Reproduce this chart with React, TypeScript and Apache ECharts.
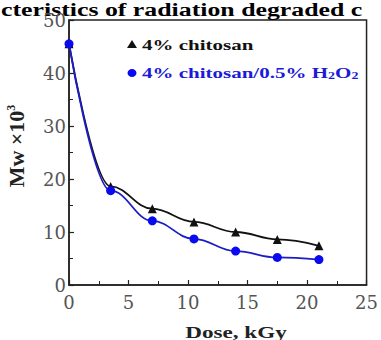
import React, { useEffect, useRef } from "react";
import * as echarts from "echarts";

const doses = [0, 3.5, 7, 10.5, 14, 17.5, 21];
const chitosan = [45.5, 18.6, 14.4, 11.9, 10.0, 8.6, 7.4];
const chitosanH2O2 = [45.5, 17.8, 12.1, 8.7, 6.4, 5.2, 4.8];
const xTicks = [0, 5, 10, 15, 20, 25];
const yTicks = [0, 10, 20, 30, 40, 50];

const SERIF = '"Liberation Serif", "Times New Roman", serif';
const WIDE_SERIF = '"DejaVu Serif", "Liberation Serif", serif';

export default function App() {
  const ref = useRef<HTMLDivElement>(null);
  useEffect(() => {
    if (!ref.current) return;
    const chart = echarts.init(ref.current, undefined, { renderer: "svg" });
    const axisCommon = {
      axisLine: { show: true, lineStyle: { color: "#222", width: 1.5 } },
      axisTick: { show: true, inside: true, length: 5, lineStyle: { color: "#222", width: 1.2 } },
      minorTick: { show: true, splitNumber: 2, length: 4, lineStyle: { color: "#222", width: 1 } },
      splitLine: { show: false },
      axisLabel: { fontFamily: WIDE_SERIF, fontSize: 18, color: "#555" },
    };
    chart.setOption({
      animation: false,
      backgroundColor: "#fff",
      grid: { left: 69, right: 10, top: 20, bottom: 55, show: true, borderColor: "#222", borderWidth: 1.5 },
      xAxis: {
        type: "value",
        min: xTicks[0],
        max: xTicks[xTicks.length - 1],
        interval: 5,
        ...axisCommon,
        axisLabel: { ...axisCommon.axisLabel, margin: 8 },
      },
      yAxis: {
        type: "value",
        min: yTicks[0],
        max: yTicks[yTicks.length - 1],
        interval: 10,
        ...axisCommon,
        axisLabel: { ...axisCommon.axisLabel, margin: 3 },
      },
      graphic: [
        {
          type: "text",
          x: 1,
          y: 0,
          scaleX: 1.36,
          style: {
            text: "{t|cteristics of radiation degraded c}",
            rich: { t: { font: `bold 19px ${SERIF}`, fill: "#000" } },
          },
        },
        {
          type: "text",
          x: 236,
          y: 332,
          scaleX: 1.36,
          style: {
            text: "{t|Dose, kGy}",
            align: "center",
            verticalAlign: "middle",
            rich: { t: { font: `bold 17px ${SERIF}`, fill: "#222" } },
          },
        },
        {
          type: "text",
          x: 16,
          y: 146,
          rotation: Math.PI / 2,
          style: {
            text: "{b|Mw ×10}{s|3}",
            align: "center",
            verticalAlign: "middle",
            rich: {
              b: { font: `bold 22px ${SERIF}`, fill: "#222" },
              s: { font: `bold 12px ${SERIF}`, fill: "#222", padding: [0, 0, 10, 0] },
            },
          },
        },
        {
          type: "polygon",
          shape: { points: [[132, 40], [127, 48], [137, 48]] },
          style: { fill: "#111" },
        },
        {
          type: "ellipse",
          shape: { cx: 132, cy: 73, rx: 4.5, ry: 4 },
          style: { fill: "#0a0af0" },
        },
        {
          type: "text",
          x: 142,
          y: 59,
          scaleX: 1.4,
          style: {
            text: "{k|4% chitosan}\n{a|4% chitosan/0.5% H}{s|2}{a|O}{s|2}",
            verticalAlign: "middle",
            lineHeight: 28,
            rich: {
              k: { font: `bold 15px ${SERIF}`, fill: "#111", lineHeight: 28 },
              a: { font: `bold 15px ${SERIF}`, fill: "#1a1ad8", lineHeight: 28 },
              s: { font: `bold 10px ${SERIF}`, fill: "#1a1ad8", padding: [6, 0, 0, 0], lineHeight: 28 },
            },
          },
        },
      ],
      series: [
        {
          type: "line",
          name: "4% chitosan",
          data: doses.map((d, i) => [d, chitosan[i]]),
          smooth: 0.4,
          smoothMonotone: "x",
          symbol: "triangle",
          symbolSize: 9,
          itemStyle: { color: "#111" },
          lineStyle: { color: "#111", width: 1.8 },
          z: 2,
        },
        {
          type: "line",
          name: "4% chitosan/0.5% H2O2",
          data: doses.map((d, i) => [d, chitosanH2O2[i]]),
          smooth: 0.4,
          smoothMonotone: "x",
          symbol: "circle",
          symbolSize: 9,
          itemStyle: { color: "#0a0af0" },
          lineStyle: { color: "#1c1cc8", width: 1.8 },
          z: 3,
        },
      ],
    });
    return () => chart.dispose();
  }, []);
  return (
    <div
      ref={ref}
      style={{ position: "fixed", left: 0, top: 0, width: 381, height: 340, background: "#fff" }}
    />
  );
}
